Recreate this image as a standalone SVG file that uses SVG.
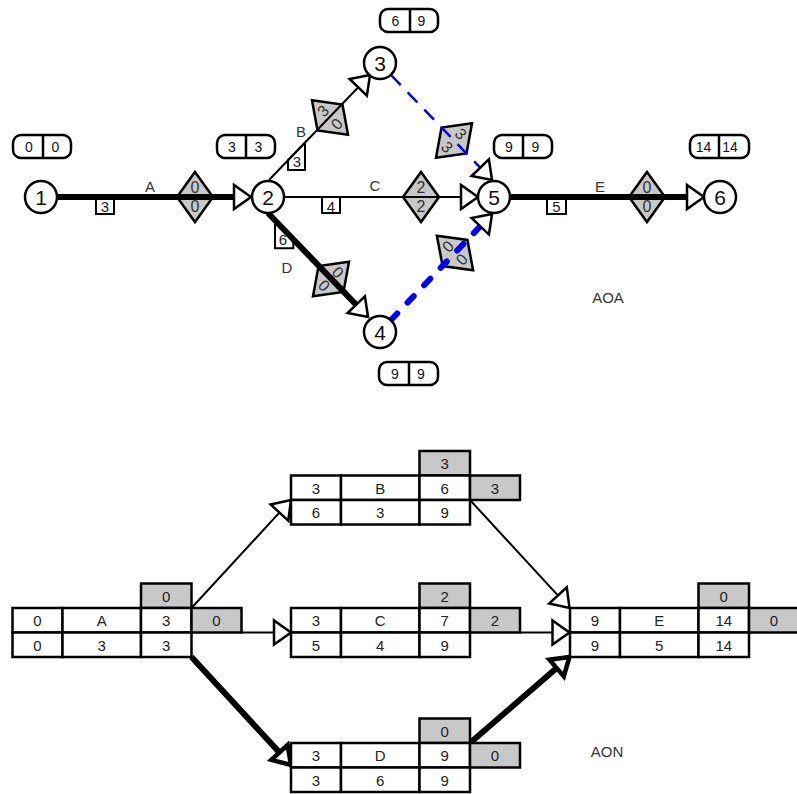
<svg xmlns="http://www.w3.org/2000/svg" width="797" height="794" viewBox="0 0 797 794">
<style>
text{font-family:"Liberation Sans",Arial,sans-serif;text-anchor:middle}
.nc{fill:#fff;stroke:#000;stroke-width:2.5}
.nn{font-size:21px;fill:#111}
.pill{fill:#fff;stroke:#000;stroke-width:2.5}
.pt{font-size:14px;fill:#111}
.dia{fill:#c8c8c8;stroke:#000;stroke-width:2.5;stroke-linejoin:miter}
.dt{font-size:16px;fill:#333}
.dur{fill:#fff;stroke:#000;stroke-width:2}
.du{font-size:15px;fill:#222}
.lbl{font-size:15px;fill:#333}
.thin{fill:none;stroke:#000;stroke-width:2}
.thick{fill:none;stroke:#000;stroke-width:6}
.dash1{fill:none;stroke:#0000ff;stroke-width:2.5;stroke-dasharray:14 10}
.dash2{fill:none;stroke:#0000ff;stroke-width:6;stroke-dasharray:9 15;stroke-linecap:round}
.cell{fill:#fff;stroke:#000;stroke-width:2.5}
.gcell{fill:#c8c8c8;stroke:#000;stroke-width:2.5}
.ct{font-size:15px;fill:#222}
</style>
<defs>
<marker id="ah" markerUnits="userSpaceOnUse" viewBox="-12 -16 28 32" refX="0" refY="0" markerWidth="28" markerHeight="32" orient="auto">
<path d="M10,0 L-7,-12 L-7,12 Z" fill="#fff" stroke="#000" stroke-width="2.5"/>
</marker>
<marker id="ahb" markerUnits="userSpaceOnUse" viewBox="-12 -16 28 32" refX="0" refY="0" markerWidth="28" markerHeight="32" orient="auto">
<path d="M10,0 L-7,-11 L-7,11 Z" fill="#fff" stroke="#000" stroke-width="4.5"/>
</marker>
<g id="diamond"><polygon class="dia" points="0,-25 18,0 0,25 -18,0"/></g>
</defs>

<!-- AOA edge decorations (float diamonds, duration boxes) -->
<g id="aoa-edge-decor">
<g transform="translate(195,197)"><use href="#diamond"/><text class="dt" y="-4">0</text><text class="dt" y="15">0</text></g>
<g transform="translate(330,117.5) rotate(-46.1)"><use href="#diamond"/><text class="dt" y="-4">3</text><text class="dt" y="15">0</text></g>
<g transform="translate(421,197)"><use href="#diamond"/><text class="dt" y="-4">2</text><text class="dt" y="15">2</text></g>
<g transform="translate(331,279) rotate(46.1)"><use href="#diamond"/><text class="dt" y="-4">0</text><text class="dt" y="15">0</text></g>
<g transform="translate(647,197)"><use href="#diamond"/><text class="dt" y="-4">0</text><text class="dt" y="15">0</text></g>
<g transform="translate(454,140.5) rotate(46.1)"><use href="#diamond"/><text class="dt" y="-4">3</text><text class="dt" y="15">3</text></g>
<g transform="translate(455,253) rotate(-46.4)"><use href="#diamond"/><text class="dt" y="-4">0</text><text class="dt" y="15">0</text></g>

<rect class="dur" x="96" y="197" width="18" height="17"/><text class="du" x="105" y="212">3</text>
<polygon class="dur" points="288,160.2 288,170 305,170 305,142.6"/><text class="du" x="297" y="167">3</text>
<rect class="dur" x="322" y="197" width="18" height="16"/><text class="du" x="331" y="211.5">4</text>
<polygon class="dur" points="275,225 279.5,225 293.3,239.3 293.3,248.3 275,248.3"/><text class="du" x="283" y="245">6</text>
<rect class="dur" x="547" y="197" width="19" height="17"/><text class="du" x="556.5" y="212">5</text>
</g>

<!-- AOA connectors -->
<g id="aoa-connectors">
<path id="eA" class="thick" d="M57,197 L241,197" marker-end="url(#ah)"/>
<path id="eB" class="thin" d="M269,180 L363.1,82.2" marker-end="url(#ah)"/>
<path id="eC" class="thin" d="M284,197 L468,197" marker-end="url(#ah)"/>
<path id="eD" class="thick" d="M268,213 L361.1,309.8" marker-end="url(#ah)"/>
<path id="eE" class="thick" d="M510,197 L694,197" marker-end="url(#ah)"/>
<path id="d35" class="dash1" d="M391,75 L485.1,172.8" marker-end="url(#ah)"/>
<path id="d45" class="dash2" d="M391,320 L485.1,221.2" marker-end="url(#ah)"/>
<text class="lbl" x="150" y="191.5">A</text>
<text class="lbl" x="301" y="137">B</text>
<text class="lbl" x="375" y="191">C</text>
<text class="lbl" x="287" y="273">D</text>
<text class="lbl" x="600" y="191.5">E</text>
</g>

<!-- AOA nodes -->
<g id="aoa-n1"><circle class="nc" cx="41" cy="197" r="16"/><text class="nn" x="41" y="204.5">1</text>
<rect class="pill" x="13" y="135" width="58" height="23" rx="8"/><line x1="43" y1="135" x2="43" y2="158" stroke="#000" stroke-width="2.5"/><text class="pt" x="29" y="151.5">0</text><text class="pt" x="55.5" y="151.5">0</text></g>
<g id="aoa-n2"><circle class="nc" cx="268" cy="197" r="16"/><text class="nn" x="268" y="204.5">2</text>
<rect class="pill" x="217" y="135" width="58" height="23" rx="8"/><line x1="246" y1="135" x2="246" y2="158" stroke="#000" stroke-width="2.5"/><text class="pt" x="232" y="151.5">3</text><text class="pt" x="258.5" y="151.5">3</text></g>
<g id="aoa-n3"><circle class="nc" cx="380" cy="63" r="16"/><text class="nn" x="380" y="70.5">3</text>
<rect class="pill" x="380" y="9" width="58" height="23" rx="8"/><line x1="410" y1="9" x2="410" y2="32" stroke="#000" stroke-width="2.5"/><text class="pt" x="395.5" y="25.5">6</text><text class="pt" x="421.5" y="25.5">9</text></g>
<g id="aoa-n4"><circle class="nc" cx="380" cy="332" r="16"/><text class="nn" x="380" y="339.5">4</text>
<rect class="pill" x="379" y="362" width="59" height="23" rx="8"/><line x1="409" y1="362" x2="409" y2="385" stroke="#000" stroke-width="2.5"/><text class="pt" x="395" y="378.5">9</text><text class="pt" x="421" y="378.5">9</text></g>
<g id="aoa-n5"><circle class="nc" cx="494" cy="197" r="16"/><text class="nn" x="494" y="204.5">5</text>
<rect class="pill" x="494" y="135" width="58" height="23" rx="8"/><line x1="523" y1="135" x2="523" y2="158" stroke="#000" stroke-width="2.5"/><text class="pt" x="509" y="151.5">9</text><text class="pt" x="535.5" y="151.5">9</text></g>
<g id="aoa-n6"><circle class="nc" cx="720" cy="197" r="16"/><text class="nn" x="720" y="204.5">6</text>
<rect class="pill" x="690" y="135" width="59" height="23" rx="8"/><line x1="719" y1="135" x2="719" y2="158" stroke="#000" stroke-width="2.5"/><text class="pt" x="703.5" y="151.5">14</text><text class="pt" x="730" y="151.5">14</text></g>

<text class="lbl" x="608" y="303">AOA</text>

<!-- AON connectors -->
<g id="aon-connectors">
<path class="thin" d="M191.5,608 L284.2,507.4" marker-end="url(#ah)"/>
<path class="thin" d="M241.5,632.5 L281,632.5" marker-end="url(#ah)"/>
<path class="thick" d="M191.5,657 L284.2,757.6" marker-end="url(#ahb)"/>
<path class="thin" d="M470,500 L562.7,600.6" marker-end="url(#ah)"/>
<path class="thin" d="M520,632.5 L559.5,632.5" marker-end="url(#ah)"/>
<path class="thick" d="M470,743 L561.9,663.5" marker-end="url(#ahb)"/>
</g>

<!-- AON nodes -->
<g id="aon-A" transform="translate(12.5,583.5)">
<rect class="gcell" x="128.5" y="0" width="50.5" height="24.5"/>
<rect class="cell" x="0" y="24.5" width="50" height="24.5"/><rect class="cell" x="50" y="24.5" width="78.5" height="24.5"/><rect class="cell" x="128.5" y="24.5" width="50.5" height="24.5"/><rect class="gcell" x="179" y="24.5" width="50" height="24.5"/>
<rect class="cell" x="0" y="49" width="50" height="24.5"/><rect class="cell" x="50" y="49" width="78.5" height="24.5"/><rect class="cell" x="128.5" y="49" width="50.5" height="24.5"/>
<text class="ct" x="153.75" y="18">0</text>
<text class="ct" x="25" y="42.5">0</text><text class="ct" x="89.25" y="42.5">A</text><text class="ct" x="153.75" y="42.5">3</text><text class="ct" x="204" y="42.5">0</text>
<text class="ct" x="25" y="67">0</text><text class="ct" x="89.25" y="67">3</text><text class="ct" x="153.75" y="67">3</text>
</g>
<g id="aon-B" transform="translate(291,451)">
<rect class="gcell" x="128.5" y="0" width="50.5" height="24.5"/>
<rect class="cell" x="0" y="24.5" width="50" height="24.5"/><rect class="cell" x="50" y="24.5" width="78.5" height="24.5"/><rect class="cell" x="128.5" y="24.5" width="50.5" height="24.5"/><rect class="gcell" x="179" y="24.5" width="50" height="24.5"/>
<rect class="cell" x="0" y="49" width="50" height="24.5"/><rect class="cell" x="50" y="49" width="78.5" height="24.5"/><rect class="cell" x="128.5" y="49" width="50.5" height="24.5"/>
<text class="ct" x="153.75" y="18">3</text>
<text class="ct" x="25" y="42.5">3</text><text class="ct" x="89.25" y="42.5">B</text><text class="ct" x="153.75" y="42.5">6</text><text class="ct" x="204" y="42.5">3</text>
<text class="ct" x="25" y="67">6</text><text class="ct" x="89.25" y="67">3</text><text class="ct" x="153.75" y="67">9</text>
</g>
<g id="aon-C" transform="translate(291,583.5)">
<rect class="gcell" x="128.5" y="0" width="50.5" height="24.5"/>
<rect class="cell" x="0" y="24.5" width="50" height="24.5"/><rect class="cell" x="50" y="24.5" width="78.5" height="24.5"/><rect class="cell" x="128.5" y="24.5" width="50.5" height="24.5"/><rect class="gcell" x="179" y="24.5" width="50" height="24.5"/>
<rect class="cell" x="0" y="49" width="50" height="24.5"/><rect class="cell" x="50" y="49" width="78.5" height="24.5"/><rect class="cell" x="128.5" y="49" width="50.5" height="24.5"/>
<text class="ct" x="153.75" y="18">2</text>
<text class="ct" x="25" y="42.5">3</text><text class="ct" x="89.25" y="42.5">C</text><text class="ct" x="153.75" y="42.5">7</text><text class="ct" x="204" y="42.5">2</text>
<text class="ct" x="25" y="67">5</text><text class="ct" x="89.25" y="67">4</text><text class="ct" x="153.75" y="67">9</text>
</g>
<g id="aon-D" transform="translate(291,718.5)">
<rect class="gcell" x="128.5" y="0" width="50.5" height="24.5"/>
<rect class="cell" x="0" y="24.5" width="50" height="24.5"/><rect class="cell" x="50" y="24.5" width="78.5" height="24.5"/><rect class="cell" x="128.5" y="24.5" width="50.5" height="24.5"/><rect class="gcell" x="179" y="24.5" width="50" height="24.5"/>
<rect class="cell" x="0" y="49" width="50" height="24.5"/><rect class="cell" x="50" y="49" width="78.5" height="24.5"/><rect class="cell" x="128.5" y="49" width="50.5" height="24.5"/>
<text class="ct" x="153.75" y="18">0</text>
<text class="ct" x="25" y="42.5">3</text><text class="ct" x="89.25" y="42.5">D</text><text class="ct" x="153.75" y="42.5">9</text><text class="ct" x="204" y="42.5">0</text>
<text class="ct" x="25" y="67">3</text><text class="ct" x="89.25" y="67">6</text><text class="ct" x="153.75" y="67">9</text>
</g>
<g id="aon-E" transform="translate(570,583.5)">
<rect class="gcell" x="128.5" y="0" width="50.5" height="24.5"/>
<rect class="cell" x="0" y="24.5" width="50" height="24.5"/><rect class="cell" x="50" y="24.5" width="78.5" height="24.5"/><rect class="cell" x="128.5" y="24.5" width="50.5" height="24.5"/><rect class="gcell" x="179" y="24.5" width="50" height="24.5"/>
<rect class="cell" x="0" y="49" width="50" height="24.5"/><rect class="cell" x="50" y="49" width="78.5" height="24.5"/><rect class="cell" x="128.5" y="49" width="50.5" height="24.5"/>
<text class="ct" x="153.75" y="18">0</text>
<text class="ct" x="25" y="42.5">9</text><text class="ct" x="89.25" y="42.5">E</text><text class="ct" x="153.75" y="42.5">14</text><text class="ct" x="204" y="42.5">0</text>
<text class="ct" x="25" y="67">9</text><text class="ct" x="89.25" y="67">5</text><text class="ct" x="153.75" y="67">14</text>
</g>

<text class="lbl" x="607" y="756.5">AON</text>
</svg>
